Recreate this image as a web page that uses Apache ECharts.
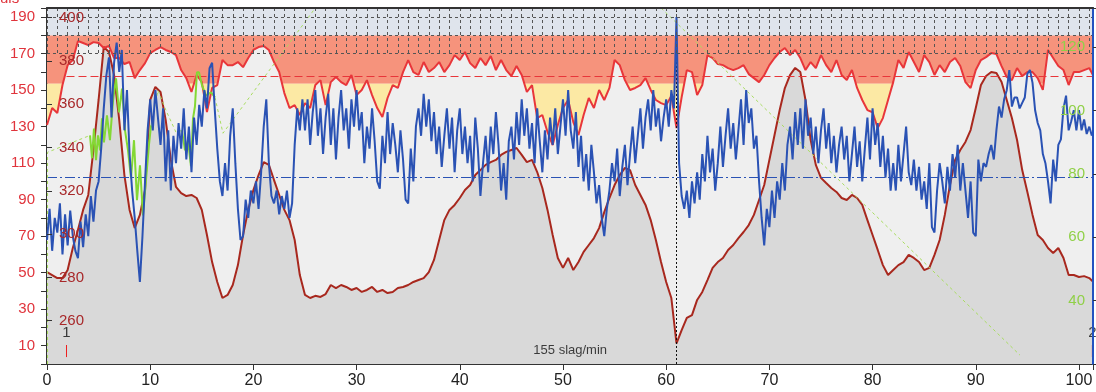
<!DOCTYPE html>
<html><head><meta charset="utf-8">
<script src="https://cdn.jsdelivr.net/npm/echarts@6/dist/echarts.min.js"></script>
<style>html,body{margin:0;padding:0;background:#fff}#c{width:1096px;height:392px}</style>
</head><body><div id="c"></div>
<script>
// sampling steps of the distance axis
const STEP = 0.5;      // pulse, altitude
const STEP_B = 0.25;   // blue series
const X_MAX = 101.36;

// pulse (bright red line, left axis)
const pulse = [
130.9,140.2,137.5,152.8,163.7,166.5,176.9,175.8,174.7,176.3,
175.8,173.1,174.2,167.6,167.6,164.3,165.4,156.6,161.0,164.8,
170.3,172.0,173.6,172.0,170.9,169.2,161.0,156.6,149.0,158.3,
154.4,138.0,151.2,152.8,166.5,163.7,163.7,165.4,162.6,167.6,
172.0,173.6,174.2,172.0,165.4,159.9,148.4,140.2,141.8,136.4,
142.9,140.2,152.8,155.5,141.8,154.4,157.2,154.4,152.8,158.3,
147.3,150.1,155.5,147.3,140.2,135.3,145.7,152.8,151.2,159.9,
166.5,159.9,158.3,165.4,159.9,162.1,165.4,159.9,163.7,169.2,
166.5,170.9,164.8,162.1,167.6,163.7,168.7,161.0,166.5,161.0,
157.7,163.2,158.3,149.0,152.8,134.7,136.4,127.1,119.9,130.9,
140.2,144.6,132.5,125.4,136.4,145.7,140.2,150.1,144.6,151.2,
166.5,163.7,155.5,150.1,151.2,152.8,156.6,150.1,144.6,142.9,
141.8,146.8,129.2,146.2,161.0,159.9,147.3,152.8,169.2,167.6,
164.3,163.7,162.1,161.0,162.1,163.7,158.8,156.6,154.4,158.3,
163.7,167.6,170.9,173.1,169.2,172.0,167.6,161.0,165.4,162.1,
169.2,163.7,159.9,166.5,158.3,155.5,161.0,151.2,144.6,139.1,
137.9,129.2,134.7,144.6,154.4,166.5,162.1,170.9,165.4,159.9,
169.2,165.4,158.3,163.7,159.9,165.4,167.6,163.2,154.4,151.2,
161.0,166.5,168.1,170.3,169.8,163.2,157.2,155.5,162.1,157.7,
159.9,159.9,156.6,150.1,172.0,167.6,163.2,161.0,152.8,159.9,
159.9,161.0,162.1,156.6
];

// altitude in metres (dark red line with grey fill, inner axis)
const altitude = [
282.5,281.1,279.7,279.7,283.4,293.6,301.9,311.2,318.1,338.9,
362.0,386.5,384.2,373.5,352.8,327.3,311.2,302.8,308.9,320.4,
362.0,368.0,365.7,352.8,334.3,321.8,319.0,317.6,318.1,316.7,
311.2,299.6,287.1,277.9,270.5,271.9,276.5,285.7,299.6,311.2,
320.4,327.3,333.3,332.0,325.0,318.1,311.2,306.5,297.3,281.1,
271.9,270.5,271.5,271.0,272.3,276.5,275.1,276.5,275.6,274.2,
275.1,273.3,274.2,275.6,273.3,274.2,272.8,273.3,275.1,275.6,
276.5,277.9,278.8,279.7,282.5,288.1,297.3,306.5,311.2,313.5,
316.7,320.4,322.7,327.3,329.6,332.0,333.3,334.3,336.6,338.0,
338.9,339.8,336.6,333.3,334.3,328.7,321.3,311.2,299.6,289.0,
284.4,289.0,283.4,287.1,291.8,295.0,298.2,302.8,310.2,316.7,
322.7,327.3,330.6,329.6,322.7,318.1,313.5,306.5,297.3,287.1,
277.9,270.5,249.5,255.7,261.3,262.6,269.6,273.3,278.8,284.4,
287.1,289.0,292.7,295.0,298.2,301.0,304.2,308.9,315.8,322.7,
334.3,345.8,357.4,367.5,373.5,376.8,374.9,362.0,343.5,332.0,
326.0,323.6,321.3,319.5,316.7,315.8,318.1,316.7,313.5,306.5,
299.6,292.7,285.7,281.1,283.4,285.7,287.1,290.4,289.0,287.1,
283.4,284.4,290.4,297.3,308.9,322.7,334.3,338.9,342.6,348.1,
358.3,368.9,373.1,374.9,374.5,370.3,362.0,353.7,343.5,329.6,
319.5,308.9,299.6,297.3,293.6,291.3,293.6,289.0,281.1,281.1,
280.2,280.6,279.7,277.4
];

// blue series (left axis), 4 samples per distance unit
const blue = [
68,85,62,80, 72,88,60,82, 65,84,70,62, 58,78,64,82, 70,92,78,95,
100,118,140,158, 168,135,165,176, 160,172,128,150, 115,95,80,62, 45,70,100,128,
145,128,150,135, 120,140,100,128, 95,125,110,132, 118,140,112,130, 105,135,120,142,
130,150,140,162, 165,140,118,100, 92,110,95,125, 140,110,85,68, 70,90,80,95,
88,100,85,105, 130,145,110,92, 88,95,82,92, 85,95,80,88, 120,140,128,145,
128,145,120,138, 150,125,140,115, 135,148,120,140, 112,135,150,128, 140,118,145,130,
150,128,138,110, 130,118,140,122, 100,96,125,110, 138,115,132,120, 105,128,112,90,
88,118,100,130, 140,125,148,130, 145,122,138,115, 130,108,125,140, 118,135,105,128,
140,115,130,110, 125,100,135,118, 92,110,125,105, 130,115,138,120, 95,110,90,122,
130,112,138,120, 145,125,140,118, 132,110,140,122, 105,128,112,135, 120,140,115,130,
145,125,150,128, 118,138,108,125, 100,115,95,120, 105,88,98,80, 70,85,95,110,
100,118,92,108, 120,98,115,130, 110,125,140,118, 135,145,128,150, 130,140,122,135,
145,130,150,140, 190,110,92,85, 95,80,100,88, 105,90,115,100, 125,105,118,95,
110,130,108,125, 140,118,132,112, 128,145,120,150, 132,140,118,125, 100,80,65,85,
75,95,80,100, 90,110,95,120, 130,112,138,120, 140,118,145,125, 135,115,130,110,
128,140,118,132, 110,125,105,120, 130,112,125,100, 115,130,108,122, 100,118,135,112,
140,120,132,108, 125,102,118,95, 110,95,120,100, 115,130,105,98, 112,95,108,90,
100,85,110,75, 72,95,110,100, 88,108,95,115, 102,120,95,110, 95,80,100,72,
70,112,100,110, 108,115,120,112, 128,141,135,145, 150,161,141,146, 146,140,143,146,
159,161,154,139, 132,128,115,110, 100,88,112,100, 120,123,140,147, 128,133,139,128,
139,128,134,126, 130,125
];

// green series (right axis): recorded parts and gap connectors
const greenX = [4.17,4.36,4.55,4.75,4.94,5.14,5.33,5.52,5.81,6.10,6.40,6.69,6.98,7.27,7.56,7.85,8.14,8.43,8.72,9.01,9.30,9.59,9.88,10.08,
  null,13.08,13.37,13.66,13.95,14.15,14.34,14.53,14.73,15.02,15.41,15.89,16.28];
const greenY = [92.1,84.9,94.3,84.3,92.1,87.4,97.5,89.9,98.4,90.6,103.1,110.1,99.4,106.9,93.7,87.4,78.6,90.6,71.7,82.7,66.9,78.0,89.0,95.3,
  null,93.7,87.4,90.6,82.4,97.5,101.3,112.0,112.0,107.9,104.7,105.7,104.1];
const gapX = [0.05,0.05,4.17,null,10.08,10.76,11.53,12.50,13.08,null,16.28,17.05,25.68,26.60,58.65,94.28];
const gapY = [20,86.8,92.1,null,95.3,106.3,100.0,93.1,93.7,null,104.1,92.8,130.9,135,135,22.8];

// reference levels
const pulseAvg = 157.5;
const blueAvg = 102.4;
const cursorX = 60.95;
const zoneTop = 180, zoneRed = 153.5;
const laps = [{x: 1.89, name: '1'}, {x: 101.3, name: '2'}];
const bottomText = '155 slag/min';
const bottomTextX = 50.7;

const xyPairs = (arr, step) => arr.map((v, i) => [i * step, v]);
const zip = (xs, ys) => xs.map((x, i) => [x, ys[i]]);

const FONT = 'Liberation Sans';
const chart = echarts.init(document.getElementById('c'), null, {renderer: 'canvas'});

const lapLines = [];
laps.forEach(l => { lapLines.push([l.x, 3.8], [l.x, 10.4], [l.x, null]); });

chart.setOption({
  animation: false,
  backgroundColor: '#ffffff',
  graphic: [{type: 'text', x: -10, y: -9, style: {text: 'Puls', fill: '#e0343c', font: '15px "Liberation Sans"'}}],
  grid: [
    {left: 47, right: 3, top: 8, bottom: 28},
    {left: 47, right: 3, top: 8, height: 45.65}
  ],
  xAxis: [
    {type: 'value', gridIndex: 0, min: 0, max: X_MAX, interval: 10,
     axisLine: {lineStyle: {color: '#333', width: 2}},
     axisTick: {length: 6, lineStyle: {color: '#333'}},
     axisLabel: {color: '#222', fontSize: 16, fontFamily: FONT, margin: 9,
       formatter: v => (v % 10 === 0 ? String(v) : '')},
     splitLine: {show: false}},
    {type: 'value', gridIndex: 1, min: 0, max: X_MAX, interval: 1, z: 8,
     axisLine: {show: false}, axisTick: {show: false}, axisLabel: {show: false},
     splitLine: {show: true, lineStyle: {color: '#555', type: [3, 3], width: 1}}},
    {type: 'value', gridIndex: 0, position: 'top', min: 0, max: X_MAX, z: 9,
     axisLine: {show: true, lineStyle: {color: '#333', width: 2}},
     axisTick: {show: false}, axisLabel: {show: false}, splitLine: {show: false}}
  ],
  yAxis: [
    {type: 'value', gridIndex: 0, position: 'left', min: 0, max: 195, interval: 10,
     axisLine: {show: true, lineStyle: {color: '#333', width: 2}},
     axisTick: {show: true, length: 6, lineStyle: {color: '#333'}},
     axisLabel: {color: '#e0343c', fontSize: 15, fontFamily: FONT, margin: 12,
       formatter: v => (v % 20 === 10 ? String(v) : '')},
     splitLine: {show: false}},
    {type: 'value', gridIndex: 0, position: 'left', offset: 0, min: 240, max: 404.5, interval: 20, z: 9,
     axisLine: {show: false},
     axisTick: {show: true, inside: true, length: 5, lineStyle: {color: '#333'}},
     axisLabel: {inside: true, color: '#a8282a', fontSize: 15, fontFamily: FONT, margin: 12,
       formatter: v => (v % 20 === 0 && v >= 260 && v <= 400 ? String(v) : '')},
     splitLine: {show: false}},
    {type: 'value', gridIndex: 0, position: 'right', min: 20, max: 132.3, interval: 20, z: 9,
     axisLine: {show: true, lineStyle: {color: '#2452c0', width: 2}},
     axisTick: {show: true, length: 4, lineStyle: {color: '#333'}},
     axisLabel: {inside: true, color: '#90d048', fontSize: 15, fontFamily: FONT, margin: 8,
       formatter: v => (v % 20 === 0 && v >= 40 && v <= 120 ? String(v) : '')},
     splitLine: {show: false}},
    {type: 'value', gridIndex: 1, min: 170, max: 195, interval: 10, z: 8,
     axisLine: {show: false}, axisTick: {show: false}, axisLabel: {show: false},
     splitLine: {show: true, lineStyle: {color: '#555', type: [3, 3], width: 1}}}
  ],
  series: [
    {type: 'line', name: 'zones', z: 1, xAxisIndex: 0, yAxisIndex: 0,
     data: [[0, 190]], showSymbol: false, lineStyle: {opacity: 0}, silent: true,
     markArea: {silent: true, data: [
       [{yAxis: zoneTop, itemStyle: {color: '#dfe4ec'}}, {yAxis: 195}],
       [{yAxis: zoneRed, itemStyle: {color: '#f6937c'}}, {yAxis: zoneTop}],
       [{yAxis: 110, itemStyle: {color: '#fce9a4'}}, {yAxis: zoneRed}]
     ]}},
    {type: 'line', name: 'pulseFill', z: 2, xAxisIndex: 0, yAxisIndex: 0,
     data: xyPairs(pulse, STEP), showSymbol: false, lineStyle: {width: 0},
     areaStyle: {color: '#efefef', opacity: 1, origin: 'start'},
     markLine: {silent: true, symbol: 'none', label: {show: false},
       lineStyle: {color: '#e8363a', type: [8, 4], width: 1},
       data: [[{coord: [laps[0].x, pulseAvg]}, {coord: [X_MAX, pulseAvg]}]]}},
    {type: 'line', name: 'altitude', z: 3, xAxisIndex: 0, yAxisIndex: 1,
     data: xyPairs(altitude, STEP), showSymbol: false,
     lineStyle: {color: '#a8281e', width: 2},
     areaStyle: {color: '#d9d9d9', opacity: 1, origin: 'start'}},
    {type: 'line', name: 'pulse', z: 4, xAxisIndex: 0, yAxisIndex: 0,
     data: xyPairs(pulse, STEP), showSymbol: false,
     lineStyle: {color: '#e8363a', width: 2}},
    {type: 'line', name: 'greenGap', z: 5, xAxisIndex: 0, yAxisIndex: 2,
     data: zip(gapX, gapY), showSymbol: false, connectNulls: false,
     lineStyle: {color: '#a8dc60', width: 1, type: [3, 3]}},
    {type: 'line', name: 'green', z: 5, xAxisIndex: 0, yAxisIndex: 2,
     data: zip(greenX, greenY), showSymbol: false, connectNulls: false,
     lineStyle: {color: '#84d834', width: 2}},
    {type: 'line', name: 'blue', z: 6, xAxisIndex: 0, yAxisIndex: 0,
     data: xyPairs(blue, STEP_B), showSymbol: false,
     lineStyle: {color: '#2a52b4', width: 2},
     markLine: {silent: true, symbol: 'none', label: {show: false},
       data: [
         [{coord: [0, blueAvg], lineStyle: {color: '#2a52b4', type: [10, 3, 2, 3], width: 1}},
          {coord: [X_MAX, blueAvg]}],
         {xAxis: cursorX, lineStyle: {color: '#111', type: [2, 2], width: 1}}
       ]}},
    {type: 'line', name: 'bar', z: 7, xAxisIndex: 0, yAxisIndex: 0,
     data: [[0, 1]], showSymbol: false, lineStyle: {opacity: 0}, silent: true,
     markArea: {silent: true, data: [[{yAxis: 0, itemStyle: {color: '#2452c0'}}, {yAxis: 3.3}]]}},
    {type: 'line', name: 'lapTicks', z: 7, xAxisIndex: 0, yAxisIndex: 0,
     data: lapLines, showSymbol: false, connectNulls: false,
     lineStyle: {color: '#ee2020', width: 1}},
    {type: 'scatter', name: 'texts', z: 7, xAxisIndex: 0, yAxisIndex: 0,
     symbolSize: 0, silent: true,
     data: [
       ...laps.map(l => ({value: [l.x, 17], name: l.name})),
       {value: [bottomTextX, 7.7], name: bottomText, label: {fontSize: 13}}
     ],
     label: {show: true, position: 'inside', formatter: p => p.name,
       color: '#111', fontSize: 15, fontFamily: FONT}}
  ]
});
</script>
</body></html>
